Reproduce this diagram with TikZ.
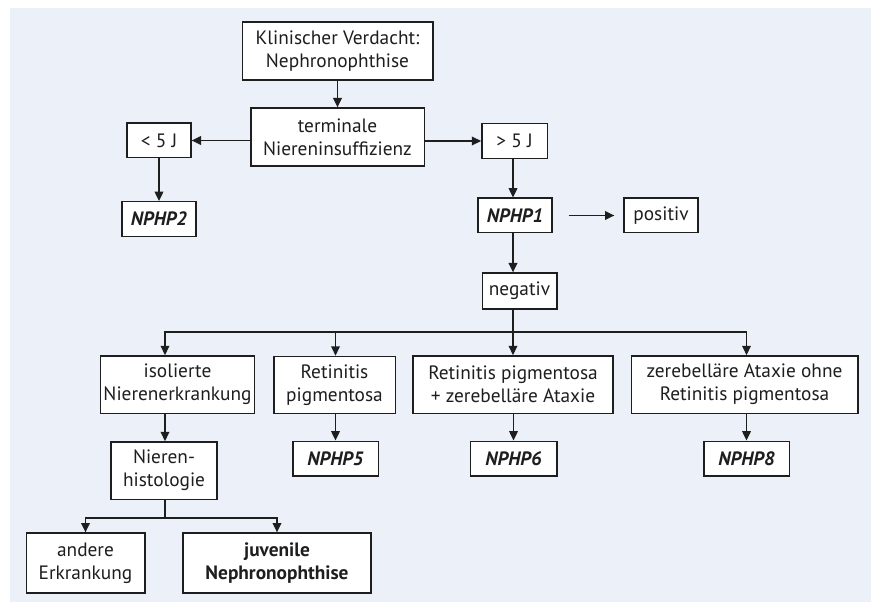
\documentclass[tikz,border=0pt]{standalone}
\usepackage{fontspec}
\setmainfont{PT Sans}
\usepackage{tikz}
\usetikzlibrary{arrows.meta,positioning,calc}
\definecolor{hgBlau}{RGB}{236,240,249}
\definecolor{rahmen}{RGB}{30,30,30}

\begin{document}
\begin{tikzpicture}[x=0.75pt,y=-0.75pt,
          kasten/.style={draw=rahmen,fill=white,line width=1pt,inner sep=2pt,
                         align=center,text=rahmen,font=\fontsize{14.5}{17.5}\selectfont},
          gen/.style={kasten,font=\fontsize{14.5}{17.5}\selectfont\bfseries\itshape},
          pfeil/.style={-{Triangle[length=7pt,width=6.5pt]},line width=1pt,draw=rahmen}]
          \useasboundingbox (0,0) rectangle (871,602);
          \fill[hgBlau] (10,8) rectangle (871,602);
          % obere Ebene
          \node[kasten,minimum width=143pt,minimum height=43.5pt](verdacht) at (337.5,51){Klinischer Verdacht:\\Nephronophthise};
          \node[kasten,minimum width=130pt,minimum height=43.5pt](terminal) at (337.5,137){terminale\\Niereninsuffizienz};
          \node[kasten,minimum width=48pt,minimum height=26pt](kurz) at (159,140.5){< 5 J};
          \node[kasten,minimum width=49pt,minimum height=26pt](lang) at (514.5,141){> 5 J};
          \node[gen,minimum width=55.5pt,minimum height=26pt](nphpzwei) at (159,219){NPHP2};
          \node[gen,minimum width=55.5pt,minimum height=26pt](nphpeins) at (515,215.5){NPHP1};
          \node[kasten,minimum width=55.5pt,minimum height=26pt](positiv) at (661,215.5){positiv};
          \node[kasten,minimum width=56pt,minimum height=27pt](negativ) at (519.5,291){negativ};
          \coordinate (zweig) at (513,332);
          % Befundgruppen
          \node[kasten,minimum width=113pt,minimum height=43pt](isoliert) at (177.5,384.5){isolierte\\Nierenerkrankung};
          \node[kasten,minimum width=91pt,minimum height=43pt](retinitis) at (334.5,385){Retinitis\\pigmentosa};
          \node[kasten,minimum width=150pt,minimum height=43pt](retataxie) at (513,384.5){Retinitis pigmentosa\\+ zerebelläre Ataxie};
          \node[kasten,minimum width=170pt,minimum height=43pt](ataxie) at (744.5,384.5){zerebelläre Ataxie ohne\\Retinitis pigmentosa};
          \node[kasten,minimum width=79.5pt,minimum height=43pt](histo) at (164,470.5){Nieren-\\histologie};
          \node[gen,minimum width=64pt,minimum height=26pt](nphpfuenf) at (335.5,458.5){NPHP5};
          \node[gen,minimum width=65pt,minimum height=26pt](nphpsechs) at (513.5,458.5){NPHP6};
          \node[gen,minimum width=64pt,minimum height=26pt](nphpacht) at (746.5,458.5){NPHP8};
          \coordinate (histozweig) at (165,518);
          \node[kasten,minimum width=89pt,minimum height=45pt](andere) at (85.5,563){andere\\Erkrankung};
          \node[kasten,minimum width=141pt,minimum height=45pt,font=\fontsize{14.5}{17.5}\selectfont\bfseries](juvenil) at (277,563){juvenile\\Nephronophthise};
          % Verbindungen
          \draw[pfeil] (verdacht.south -| terminal) -- (terminal.north);
          \draw[pfeil] (terminal.west |- kurz) -- (kurz.east);
          \draw[pfeil] (terminal.east |- lang) -- (lang.east -| lang.west);
          \draw[pfeil] (kurz.south -| nphpzwei) -- (nphpzwei.north);
          \draw[pfeil] (lang.south -| zweig) -- (nphpeins.north -| zweig);
          \draw[pfeil,shorten <=12pt,shorten >=6.75pt] (nphpeins.east) -- (positiv.west);
          \draw[pfeil] (nphpeins.south -| zweig) -- (negativ.north -| zweig);
          \draw[line width=1pt,draw=rahmen] (negativ.south -| zweig) -- (zweig);
          \draw[pfeil] (zweig) -| (isoliert.north -| histozweig);
          \draw[pfeil] (zweig) -| (retinitis.north -| nphpfuenf);
          \draw[pfeil] (zweig) -- (retataxie.north -| zweig);
          \draw[pfeil] (zweig) -| (ataxie.north -| nphpacht);
          \draw[pfeil] (isoliert.south -| histozweig) -- (histo.north -| histozweig);
          \draw[pfeil] (retinitis.south -| nphpfuenf) -- (nphpfuenf.north);
          \draw[pfeil] (retataxie.south -| nphpsechs) -- (nphpsechs.north);
          \draw[pfeil] (ataxie.south -| nphpacht) -- (nphpacht.north);
          \draw[line width=1pt,draw=rahmen] (histo.south -| histozweig) -- (histozweig);
          \draw[pfeil] (histozweig) -| (andere.north);
          \draw[pfeil] (histozweig) -| (juvenil.north);
\end{tikzpicture}
\end{document}
